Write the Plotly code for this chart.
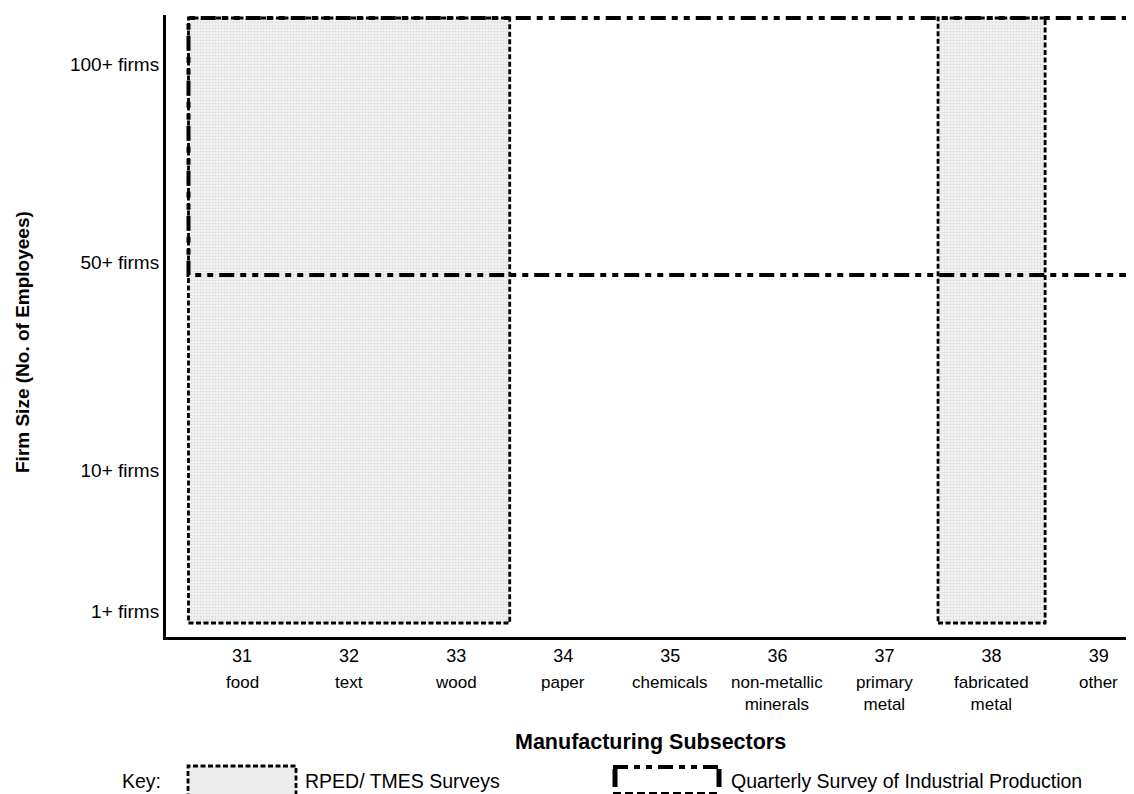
import plotly.graph_objects as go

# ---- data ----
subsector_codes = [31, 32, 33, 34, 35, 36, 37, 38, 39]
subsector_names = ["food", "text", "wood", "paper", "chemicals",
                   "non-metallic<br>minerals", "primary<br>metal",
                   "fabricated<br>metal", "other"]
size_labels = ["1+ firms", "10+ firms", "50+ firms", "100+ firms"]
size_pos = [26, 167, 375, 573]          # position of each size class on the vertical scale

# RPED/TMES survey coverage: (first subsector, last subsector), all firm sizes
rped_groups = [(31, 33), (38, 38)]
rped_bottom = 14
rped_top = 619

# Quarterly Survey of Industrial Production: all subsectors from 31, firms 50+
qsip_first = 31
qsip_last = 40
qsip_bottom = 362
qsip_top = 619

FONT = "Liberation Sans, Arial, sans-serif"
QSIP_DASH = "15px,6px,6px,6px,6px,6px"
RPED_DASH = "5px,2.5px"

fig = go.Figure()

for (a, b) in rped_groups:
    xs = [a - 0.5, b + 0.5, b + 0.5, a - 0.5, a - 0.5]
    ys = [rped_bottom, rped_bottom, rped_top, rped_top, rped_bottom]
    fig.add_trace(go.Scatter(
        x=xs, y=ys, mode="lines", fill="toself",
        fillcolor="#ececec",
        fillpattern=dict(shape=".", size=3, solidity=0.35,
                         fgcolor="#c4c4c4", bgcolor="#f3f3f3"),
        line=dict(color="black", width=2.8, dash=RPED_DASH),
        showlegend=False, hoverinfo="skip"))

fig.add_trace(go.Scatter(
    x=[qsip_last, qsip_first - 0.5, qsip_first - 0.5, qsip_last],
    y=[qsip_top, qsip_top, qsip_bottom, qsip_bottom],
    mode="lines",
    line=dict(color="black", width=4, dash=QSIP_DASH),
    showlegend=False, hoverinfo="skip"))

# helpers: screen pixel -> paper coordinate (plot area 166..1134 x 15..637)
def px(x):
    return (x - 166) / 968.0

def py(y):
    return (637 - y) / 622.0

# category names under the code numbers
for c, n in zip(subsector_codes, subsector_names):
    fig.add_annotation(x=c, y=py(671), xref="x", yref="paper", text=n,
                       showarrow=False, yanchor="top", xanchor="center",
                       font=dict(size=17, family=FONT, color="black"))

# axis titles
fig.add_annotation(x=0.5, y=py(742), xref="paper", yref="paper",
                   text="<b>Manufacturing Subsectors</b>", showarrow=False,
                   xanchor="center", yanchor="middle",
                   font=dict(size=21.5, family=FONT, color="black"))
fig.add_annotation(x=px(22), y=py(342), xref="paper", yref="paper",
                   text="<b>Firm Size (No. of Employees)</b>", showarrow=False,
                   xanchor="center", yanchor="middle",
                   textangle=-90, font=dict(size=19, family=FONT, color="black"))

# key
fig.add_annotation(x=px(141), y=py(781), xref="paper", yref="paper", text="Key:",
                   showarrow=False, xanchor="center", yanchor="middle",
                   font=dict(size=19.5, family=FONT, color="black"))
fig.add_annotation(x=px(303), y=py(781), xref="paper", yref="paper",
                   text="RPED/ TMES Surveys", showarrow=False,
                   xanchor="left", yanchor="middle",
                   font=dict(size=19.5, family=FONT, color="black"))
fig.add_annotation(x=px(729), y=py(781), xref="paper", yref="paper",
                   text="Quarterly Survey of Industrial Production", showarrow=False,
                   xanchor="left", yanchor="middle",
                   font=dict(size=19.5, family=FONT, color="black"))

fig.add_shape(type="rect", xref="paper", yref="paper",
              x0=px(188), x1=px(296), y0=py(800), y1=py(766),
              fillcolor="#ececec", line=dict(color="black", width=2.8, dash=RPED_DASH))
# QSIP key swatch: dash-dot top, solid thick sides, dashed bottom
fig.add_shape(type="line", xref="paper", yref="paper",
              x0=px(613), x1=px(721), y0=py(767), y1=py(767),
              line=dict(color="black", width=4, dash=QSIP_DASH))
for xx in (615, 719):
    fig.add_shape(type="line", xref="paper", yref="paper",
                  x0=px(xx), x1=px(xx), y0=py(769), y1=py(787),
                  line=dict(color="black", width=5))
fig.add_shape(type="line", xref="paper", yref="paper",
              x0=px(613), x1=px(721), y0=py(793), y1=py(793),
              line=dict(color="black", width=2, dash="8px,4px"))

# The page places the figure 8px in from the top-left corner,
# so the figure is sized to end exactly at the window edges.
fig.update_layout(
    width=1126, height=786,
    margin=dict(l=158, r=0, t=7, b=157),
    paper_bgcolor="white", plot_bgcolor="white",
    font=dict(family=FONT, color="black"),
    showlegend=False,
    xaxis=dict(range=[30.29, 39.33], tickvals=subsector_codes,
               ticktext=[str(c) for c in subsector_codes],
               tickfont=dict(size=18), showgrid=False, zeroline=False,
               showline=True, linecolor="black", linewidth=3, ticks="",
               fixedrange=True),
    yaxis=dict(range=[0, 622], tickvals=size_pos, ticktext=size_labels,
               tickfont=dict(size=19), showgrid=False, zeroline=False,
               showline=True, linecolor="black", linewidth=3, ticks="",
               fixedrange=True),
)

fig.write_html("out.html")
